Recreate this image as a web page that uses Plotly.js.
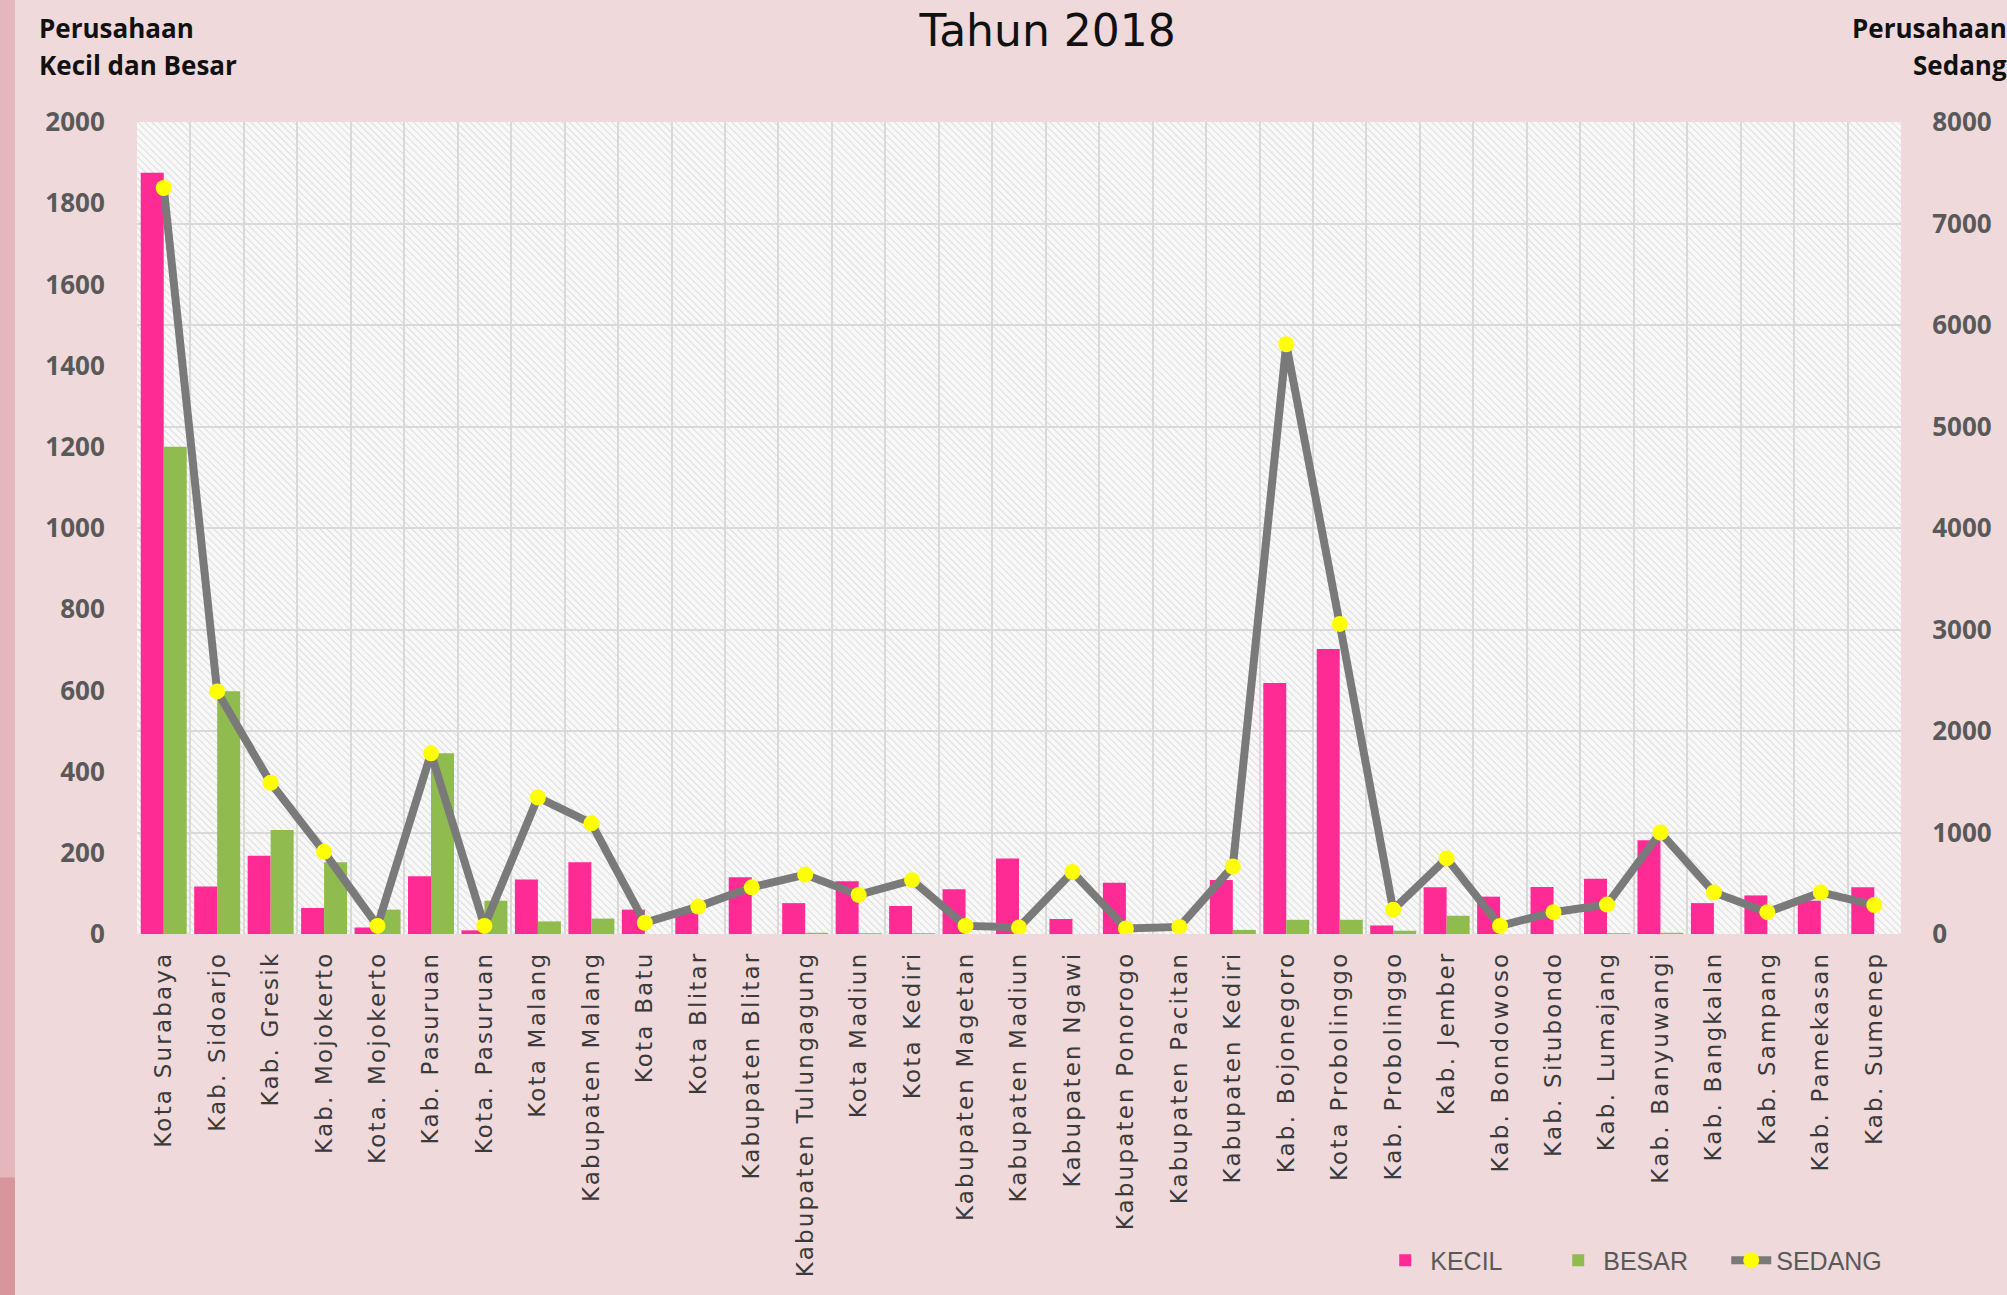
<!DOCTYPE html>
<html>
<head>
<meta charset="utf-8">
<script src="https://cdn.plot.ly/plotly-3.0.1.min.js"></script>
<style>
  html, body { margin: 0; padding: 0; background: #efd9db; }
  #chart { width: 2007px; height: 1295px; }
  #chart .xtick text { letter-spacing: 2.2px; }
</style>
</head>
<body>
<div id="chart"></div>
<script>
const categories = [
  "Kota Surabaya", "Kab. Sidoarjo", "Kab. Gresik", "Kab. Mojokerto", "Kota. Mojokerto",
  "Kab. Pasuruan", "Kota. Pasuruan", "Kota Malang", "Kabupaten Malang", "Kota Batu",
  "Kota Blitar", "Kabupaten Blitar", "Kabupaten Tulungagung", "Kota Madiun", "Kota Kediri",
  "Kabupaten Magetan", "Kabupaten Madiun", "Kabupaten Ngawi", "Kabupaten Ponorogo", "Kabupaten Pacitan",
  "Kabupaten Kediri", "Kab. Bojonegoro", "Kota Probolinggo", "Kab. Probolinggo", "Kab. Jember",
  "Kab. Bondowoso", "Kab. Situbondo", "Kab. Lumajang", "Kab. Banyuwangi", "Kab. Bangkalan",
  "Kab. Sampang", "Kab. Pamekasan", "Kab. Sumenep"
];
const kecil = [1875, 117, 193, 64, 16, 142, 9, 134, 177, 60, 53, 140, 76, 130, 69, 110, 186, 37, 126, 0, 133, 618, 702, 21, 115, 92, 116, 136, 231, 76, 95, 82, 115];
const besar = [1200, 598, 256, 177, 60, 445, 82, 31, 38, 0, 0, 0, 3, 2, 2, 0, 0, 0, 0, 0, 10, 35, 35, 8, 45, 0, 0, 2, 3, 0, 0, 0, 0];
const sedang = [7350, 2390, 1490, 810, 80, 1780, 80, 1345, 1090, 110, 270, 460, 585, 385, 530, 80, 65, 610, 55, 70, 665, 5810, 3055, 240, 745, 80, 215, 290, 1000, 410, 215, 410, 285];

const leftTicks = [0, 200, 400, 600, 800, 1000, 1200, 1400, 1600, 1800, 2000];
const rightTicks = [0, 1000, 2000, 3000, 4000, 5000, 6000, 7000, 8000];

const hatchSvg = "<svg xmlns='http://www.w3.org/2000/svg' width='1764' height='815'>" +
  "<defs><pattern id='p' width='5' height='5' patternUnits='userSpaceOnUse' patternTransform='rotate(-45)'>" +
  "<rect width='5' height='5' fill='#f8f8f8'/><line x1='0' y1='0' x2='0' y2='5' stroke='#d6d6d6' stroke-width='1.6'/>" +
  "</pattern></defs><rect width='100%' height='100%' fill='url(#p)'/></svg>";
const hatchUri = "data:image/svg+xml;charset=utf-8," + encodeURIComponent(hatchSvg);

const traces = [
  {
    type: "bar", name: "KECIL", x: categories, y: kecil,
    marker: { color: "#ff2b94" }, yaxis: "y", hoverinfo: "x+y"
  },
  {
    type: "bar", name: "BESAR", x: categories, y: besar,
    marker: { color: "#8fbb4f" }, yaxis: "y", hoverinfo: "x+y"
  },
  {
    type: "scatter", mode: "lines+markers", name: "SEDANG", x: categories, y: sedang,
    yaxis: "y2",
    line: { color: "#7a7a7a", width: 8 },
    marker: { color: "#ffff00", size: 16, symbol: "circle" }
  }
];

const layout = {
  width: 2007, height: 1295,
  paper_bgcolor: "#efd9db",
  plot_bgcolor: "#f2f2f2",
  margin: { l: 137, r: 106, t: 122, b: 358 },
  barmode: "group",
  bargap: 0.14,
  bargroupgap: 0,
  showlegend: true,
  title: {
    text: "Tahun 2018",
    font: { family: "DejaVu Sans", size: 44, color: "#111111" },
    x: 0.522, xref: "container", xanchor: "center",
    y: 0.976, yref: "container", yanchor: "middle"
  },
  xaxis: {
    type: "category",
    range: [-0.5, categories.length - 0.5],
    autorange: false,
    tickson: "boundaries",
    showgrid: true, gridcolor: "#d9d9d9", gridwidth: 2,
    tickangle: -90,
    ticks: "outside", ticklen: 36, tickcolor: "rgba(0,0,0,0)",
    ticklabelstandoff: 12,
    tickfont: { family: "DejaVu Sans", size: 23, color: "#3a3a3a" },
    showline: false, zeroline: false
  },
  yaxis: {
    range: [0, 2000],
    tickvals: leftTicks,
    showgrid: false, zeroline: false, showline: false,
    ticks: "outside", ticklen: 26, tickcolor: "rgba(0,0,0,0)",
    tickfont: { family: "Open Sans", size: 26, color: "#595959", weight: 700 }
  },
  yaxis2: {
    range: [0, 8000],
    tickvals: rightTicks,
    overlaying: "y", side: "right",
    showgrid: true, gridcolor: "#d9d9d9", gridwidth: 2,
    zeroline: false, showline: false,
    ticks: "outside", ticklen: 25, tickcolor: "rgba(0,0,0,0)",
    tickfont: { family: "Open Sans", size: 26, color: "#595959", weight: 700 }
  },
  legend: {
    orientation: "h",
    x: 0.999, xanchor: "right",
    y: -0.402, yanchor: "middle",
    bgcolor: "rgba(0,0,0,0)",
    font: { family: "Liberation Sans", size: 25, color: "#595959" },
    itemwidth: 40,
    entrywidth: 118,
    traceorder: "normal"
  },
  images: [{
    source: hatchUri,
    xref: "paper", yref: "paper",
    x: 0, y: 1, sizex: 1, sizey: 1,
    xanchor: "left", yanchor: "top",
    sizing: "stretch", layer: "below"
  }],
  shapes: [
    { type: "rect", xref: "paper", yref: "paper", x0: -0.0777, x1: -0.0692, y0: -0.45, y1: 1.16,
      fillcolor: "#e3b7bc", line: { width: 0 }, layer: "below" },
    { type: "rect", xref: "paper", yref: "paper", x0: -0.0777, x1: -0.0692, y0: -0.45, y1: -0.30,
      fillcolor: "#d8959b", line: { width: 0 }, layer: "below" }
  ],
  annotations: [
    { text: "Perusahaan", xref: "paper", yref: "paper", x: -0.0567, y: 1.1153,
      xanchor: "left", yanchor: "middle", showarrow: false,
      font: { family: "Open Sans", size: 26, color: "#111111", weight: 700 } },
    { text: "Kecil dan Besar", xref: "paper", yref: "paper", x: -0.0567, y: 1.0699,
      xanchor: "left", yanchor: "middle", showarrow: false,
      font: { family: "Open Sans", size: 26, color: "#111111", weight: 700 } },
    { text: "Perusahaan", xref: "paper", yref: "paper", x: 1.061, y: 1.1153,
      xanchor: "right", yanchor: "middle", showarrow: false,
      font: { family: "Open Sans", size: 26, color: "#111111", weight: 700 } },
    { text: "Sedang", xref: "paper", yref: "paper", x: 1.061, y: 1.0699,
      xanchor: "right", yanchor: "middle", showarrow: false,
      font: { family: "Open Sans", size: 26, color: "#111111", weight: 700 } }
  ]
};

Plotly.newPlot("chart", traces, layout, { displayModeBar: false, staticPlot: true });
</script>
</body>
</html>
